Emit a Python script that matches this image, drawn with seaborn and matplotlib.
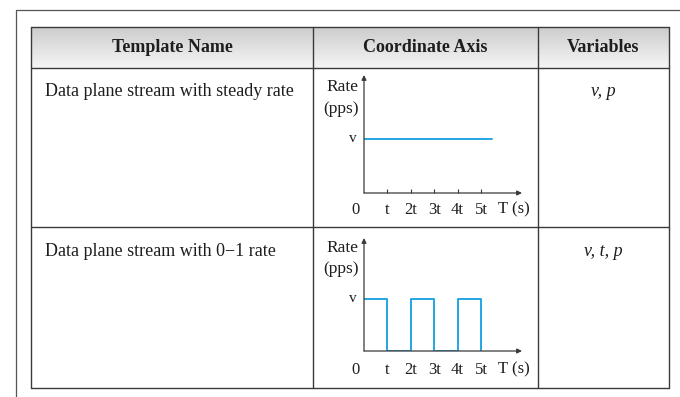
import numpy as np
import matplotlib
matplotlib.use("Agg")
import matplotlib.pyplot as plt
import seaborn as sns

headers = ["Template Name", "Coordinate Axis", "Variables"]
template_names = ["Data plane stream with steady rate", "Data plane stream with 0\u22121 rate"]
variables = ["v, p", "v, t, p"]

tick_pos = [1, 2, 3, 4, 5]
tick_labels = ["t", "2t", "3t", "4t", "5t"]

steady_time = [0, 5.45]
steady_rate = [1, 1]

pulse_time = [0, 1, 2, 3, 4, 5]
pulse_rate = [1, 0, 1, 0, 1, 0]

sns.set_theme(style="white")
plt.rcParams["font.family"] = ["Liberation Serif", "DejaVu Serif"]

W, H = 680, 397
fig = plt.figure(figsize=(W / 100, H / 100), dpi=100)
ax0 = fig.add_axes([0, 0, 1, 1])
ax0.set_xlim(0, W)
ax0.set_ylim(H, 0)
ax0.axis("off")

line_c = "#3a3a3a"
text_c = "#1e1e1e"
blue = "#22a6e2"

# outer frame
ax0.plot([16, 16], [10, H], color="#555555", lw=0.9)
ax0.plot([16, W], [10, 10], color="#555555", lw=0.9)

# table
x_cols = [31, 313, 538, 669]
y_rows = [27, 68, 227, 388]
grad = np.linspace(0.80, 0.96, 50).reshape(-1, 1)
ax0.imshow(grad, cmap="gray", vmin=0, vmax=1, extent=(31, 669, 68, 27), aspect="auto", origin="upper")
for y in y_rows:
    ax0.plot([x_cols[0], x_cols[-1]], [y, y], color=line_c, lw=1.0)
for x in x_cols:
    ax0.plot([x, x], [y_rows[0], y_rows[-1]], color=line_c, lw=1.0)
ax0.set_xlim(0, W)
ax0.set_ylim(H, 0)

for i, h in enumerate(headers):
    ax0.text((x_cols[i] + x_cols[i + 1]) / 2, 48, h, ha="center", va="center",
             fontsize=13, fontweight="bold", color=text_c)

row_text_y = [91, 251]
for i in range(2):
    ax0.text(45, row_text_y[i], template_names[i], ha="left", va="center", fontsize=13, color=text_c)
    ax0.text((x_cols[2] + x_cols[3]) / 2, row_text_y[i], variables[i], ha="center", va="center",
             fontsize=13, fontstyle="italic", color=text_c)

px_per_t = 23.4
x0_px, xend_px = 364, 522
pt = 0.72


def mini_chart(top_px, axis_px, v_px, ticks, lab_px, rate_dy):
    ymax = (axis_px - top_px) / (axis_px - v_px)
    ax = fig.add_axes([x0_px / W, (H - axis_px) / H, (xend_px - x0_px) / W, (axis_px - top_px) / H])
    ax.set_xlim(0, (xend_px - x0_px) / px_per_t)
    ax.set_ylim(0, ymax)
    ax.patch.set_alpha(0)
    for s in ax.spines.values():
        s.set_visible(False)
    ax.set_yticks([])
    if ticks:
        ax.set_xticks(tick_pos)
        ax.tick_params(axis="x", direction="in", length=3, width=0.8, color=line_c,
                       labelbottom=False, bottom=True)
    else:
        ax.set_xticks([])
    arrow = dict(arrowstyle="-|>", color=line_c, lw=0.9, mutation_scale=7, shrinkA=0, shrinkB=0)
    ax.annotate("", xy=(1, 0), xytext=(0, 0), xycoords="axes fraction", arrowprops=arrow, annotation_clip=False)
    ax.annotate("", xy=(0, 1), xytext=(0, 0), xycoords="axes fraction", arrowprops=arrow, annotation_clip=False)
    lab_off = -lab_px * pt
    for p, lab in zip(tick_pos, tick_labels):
        ax.annotate(lab, xy=(p, 0), xytext=(0, lab_off), textcoords="offset points",
                    ha="center", va="center", fontsize=12, color=text_c, annotation_clip=False)
    ax.annotate("0", xy=(0, 0), xytext=(-8 * pt, lab_off), textcoords="offset points",
                ha="center", va="center", fontsize=12, color=text_c, annotation_clip=False)
    ax.annotate("T (s)", xy=(6.4, 0), xytext=(0, lab_off), textcoords="offset points",
                ha="center", va="center", fontsize=12, color=text_c, annotation_clip=False)
    ax.annotate("v", xy=(0, 1), xytext=(-11 * pt, 0), textcoords="offset points",
                ha="center", va="center", fontsize=11, color=text_c, annotation_clip=False)
    ax.annotate("Rate", xy=(0, ymax), xytext=(-6 * pt, -rate_dy[0] * pt), textcoords="offset points",
                ha="right", va="center", fontsize=12.5, color=text_c, annotation_clip=False)
    ax.annotate("(pps)", xy=(0, ymax), xytext=(-5 * pt, -rate_dy[1] * pt), textcoords="offset points",
                ha="right", va="center", fontsize=12.5, color=text_c, annotation_clip=False)
    return ax


ax1 = mini_chart(75, 193, 139, True, 16.5, (12, 34))
sns.lineplot(x=steady_time, y=steady_rate, ax=ax1, color=blue, lw=1.4, estimator=None, sort=False)

ax2 = mini_chart(238, 351, 299, False, 18.5, (10, 31))
sns.lineplot(x=pulse_time, y=pulse_rate, ax=ax2, color=blue, lw=1.4, estimator=None, sort=False,
             drawstyle="steps-post")
for a in (ax1, ax2):
    a.set_xlabel("")
    a.set_ylabel("")

fig.savefig("out.png", dpi=100)
